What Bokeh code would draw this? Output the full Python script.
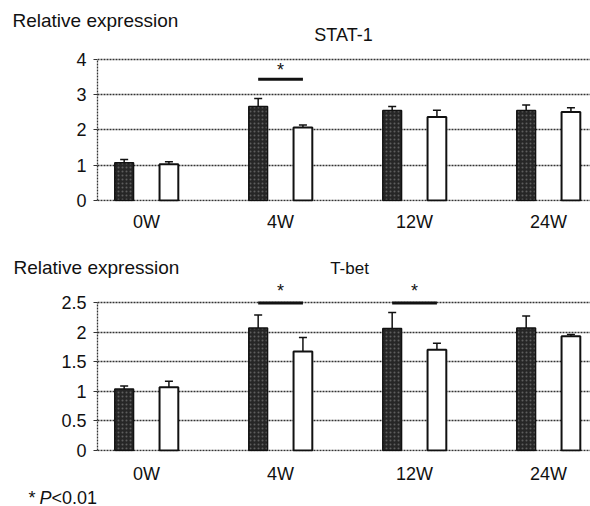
from bokeh.plotting import figure
from bokeh.models import (ColumnDataSource, Range1d, FixedTicker, CustomJSTickFormatter,
                          Whisker, TeeHead, Label)
from bokeh.layouts import column, row
from bokeh.embed import file_html
from bokeh.resources import INLINE

# ---------------- data ----------------
weeks = ["0W", "4W", "12W", "24W"]

stat1_dark = [1.07, 2.67, 2.55, 2.55]
stat1_dark_err = [0.09, 0.22, 0.12, 0.16]
stat1_white = [1.03, 2.07, 2.37, 2.51]
stat1_white_err = [0.07, 0.07, 0.19, 0.12]
stat1_sig = ["4W"]
stat1_sig_level = 3.44
stat1_ticks = [0, 1, 2, 3, 4]

tbet_dark = [1.04, 2.07, 2.06, 2.07]
tbet_dark_err = [0.05, 0.22, 0.27, 0.20]
tbet_white = [1.07, 1.67, 1.70, 1.93]
tbet_white_err = [0.10, 0.24, 0.11, 0.03]
tbet_sig = ["4W", "12W"]
tbet_sig_level = 2.49
tbet_ticks = [0, 0.5, 1, 1.5, 2, 2.5]

FONT = "Liberation Sans"
INK = "#111111"
OFF = 0.167      # dodge of each bar from the group centre
BW = 0.14        # bar width
XR = (-0.366, 3.313)
W = 590


def text_strip(h, items):
    """A figure without axes whose frame fills it; texts placed in pixel units."""
    f = figure(width=W, height=h, x_range=Range1d(0, W), y_range=Range1d(h, 0),
               min_border_left=0, min_border_right=0, min_border_top=0, min_border_bottom=0,
               x_axis_location=None, y_axis_location=None,
               output_backend="svg", toolbar_location=None, tools="")
    f.outline_line_color = None
    f.grid.visible = False
    for (txt, x, y, size, align, style) in items:
        f.add_layout(Label(x=x, y=y, text=txt, text_align=align, text_baseline="alphabetic",
                           text_font=FONT, text_font_size=size, text_font_style=style,
                           text_color=INK))
    return row(f, spacing=0)


def make_panel(dark, dark_err, white, white_err, sig, sig_level, ticks, ymax,
               y0, y1, frame_h, bottom, star_y, xlab_standoff):
    p = figure(width=W, height=frame_h + bottom, frame_width=493, frame_height=frame_h,
               min_border_left=97, min_border_right=0, min_border_top=0, min_border_bottom=bottom,
               x_range=Range1d(*XR), y_range=Range1d(y0, y1),
               output_backend="svg", toolbar_location=None, tools="")
    p.outline_line_color = None
    p.background_fill_color = "white"

    idx = list(range(len(weeks)))
    xd = [i - OFF for i in idx]
    xw = [i + OFF for i in idx]
    src_d = ColumnDataSource(dict(x=xd, top=dark, up=[v + e for v, e in zip(dark, dark_err)]))
    src_w = ColumnDataSource(dict(x=xw, top=white, up=[v + e for v, e in zip(white, white_err)]))

    # grid
    p.xgrid.grid_line_color = None
    p.ygrid.ticker = FixedTicker(ticks=ticks)
    p.ygrid.grid_line_color = "#333333"
    p.ygrid.grid_line_dash = "2 1"
    p.ygrid.grid_line_width = 1.3

    # bars
    p.vbar(x="x", top="top", bottom=0, width=BW, source=src_d,
           fill_color="#262626", line_color=INK, line_width=1.5,
           hatch_pattern="dot", hatch_color="#8c8c8c", hatch_scale=4,
           hatch_weight=1.2, hatch_alpha=0.55)
    p.vbar(x="x", top="top", bottom=0, width=BW, source=src_w,
           fill_color="white", line_color=INK, line_width=2)

    for s in (src_d, src_w):
        p.add_layout(Whisker(source=s, base="x", lower="top", upper="up", dimension="height",
                             line_color=INK, line_width=1.5, lower_head=None,
                             upper_head=TeeHead(size=8, line_color=INK, line_width=1.5)))

    # significance bars and stars
    si = [weeks.index(w) for w in sig]
    p.segment(x0=[i - OFF for i in si], x1=[i + OFF for i in si],
              y0=[sig_level] * len(si), y1=[sig_level] * len(si),
              line_color=INK, line_width=3)
    for i in si:
        p.add_layout(Label(x=i, y=star_y, text="*", text_align="center",
                           text_baseline="alphabetic", text_font=FONT,
                           text_font_size="18px", text_color=INK))

    # axes
    p.yaxis.bounds = (0, ymax)
    p.yaxis.ticker = FixedTicker(ticks=ticks)
    p.yaxis.formatter = CustomJSTickFormatter(code="return tick.toString();")
    p.yaxis.axis_line_color = "#333333"
    p.yaxis.axis_line_dash = "2 1"
    p.yaxis.axis_line_width = 1.3
    p.yaxis.major_tick_out = 4
    p.yaxis.major_tick_in = 0
    p.yaxis.major_tick_line_color = "#333333"
    p.yaxis.minor_tick_line_color = None
    p.yaxis.major_label_standoff = 7
    p.yaxis.major_label_text_font = FONT
    p.yaxis.major_label_text_font_size = "18px"
    p.yaxis.major_label_text_color = INK

    p.xaxis.ticker = FixedTicker(ticks=idx)
    p.xaxis.major_label_overrides = {i: w for i, w in enumerate(weeks)}
    p.xaxis.axis_line_color = None
    p.xaxis.major_tick_line_color = None
    p.xaxis.minor_tick_line_color = None
    p.xaxis.major_label_standoff = xlab_standoff
    p.xaxis.major_label_text_font = FONT
    p.xaxis.major_label_text_font_size = "18px"
    p.xaxis.major_label_text_color = INK
    return p


head1 = text_strip(45, [("Relative expression", 12, 20, "19px", "left", "normal"),
                        ("STAT-1", 343, 34, "18px", "center", "normal")])
p1 = make_panel(stat1_dark, stat1_dark_err, stat1_white, stat1_white_err,
                stat1_sig, stat1_sig_level, stat1_ticks, 4,
                y0=-0.0284, y1=4.397, frame_h=156, bottom=39, star_y=3.70, xlab_standoff=4)
head2 = text_strip(38, [("Relative expression", 13, 27, "19px", "left", "normal"),
                        ("T-bet", 349, 28, "17px", "center", "normal")])
p2 = make_panel(tbet_dark, tbet_dark_err, tbet_white, tbet_white_err,
                tbet_sig, tbet_sig_level, tbet_ticks, 2.5,
                y0=-0.0169, y1=2.905, frame_h=173, bottom=33, star_y=2.69, xlab_standoff=6)
foot = text_strip(22, [("*", 28, 11, "18px", "left", "normal"),
                       ("P", 39, 11, "18px", "left", "italic"),
                       ("<0.01", 51, 11, "18px", "left", "normal")])

layout = column(head1, p1, head2, p2, foot, spacing=0)
open("out.html", "w").write(file_html(layout, INLINE))
